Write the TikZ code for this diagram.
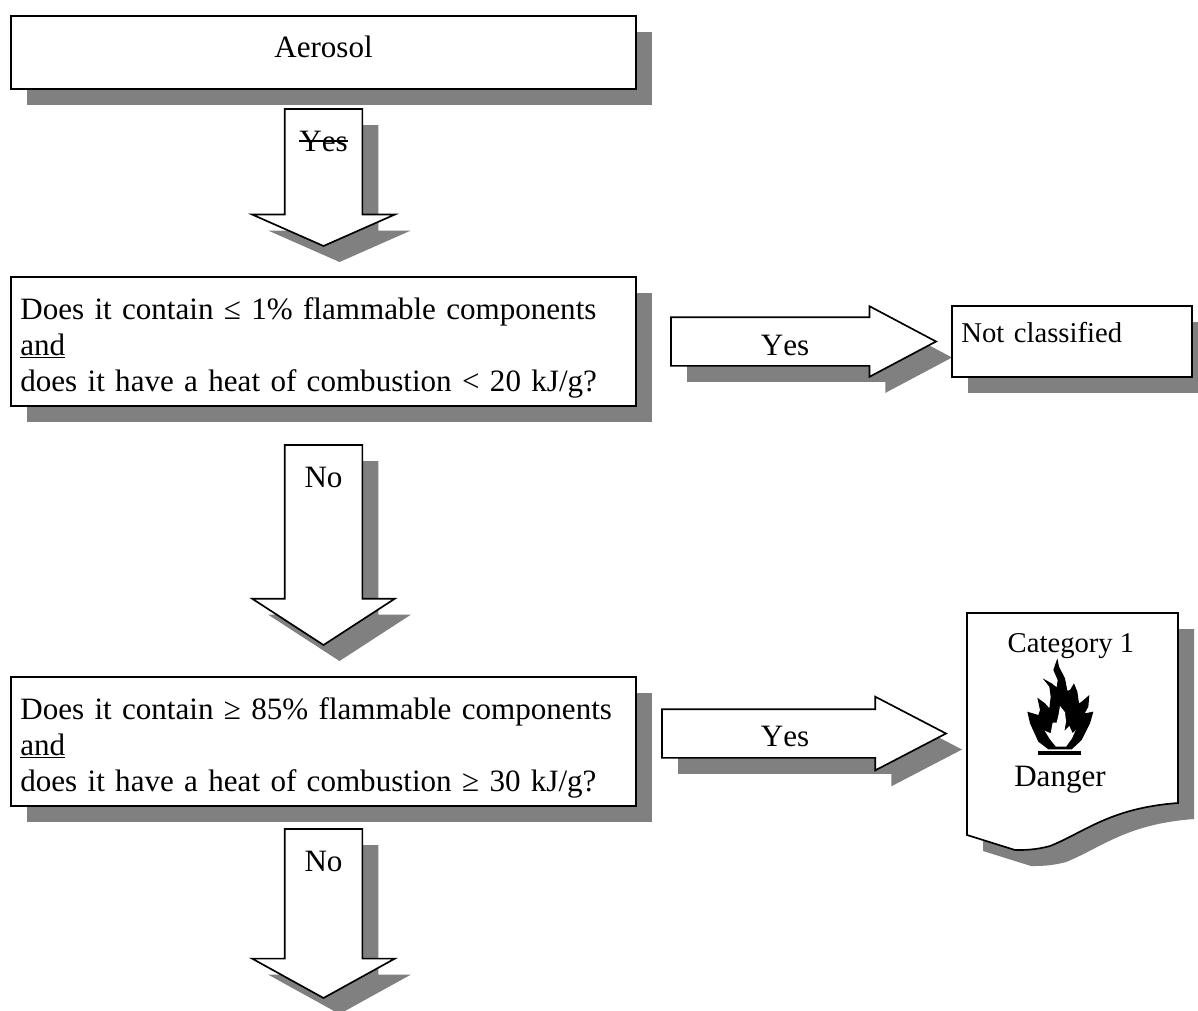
\documentclass[tikz,border=0pt]{standalone}
\usepackage{fontspec}
\setmainfont[Kerning=Off]{Liberation Serif}
\usetikzlibrary{shapes.arrows,shadows}
\def\px{0.75pt}
\tikzset{dropshadow/.style={general shadow={fill=gray,shadow xshift=16*\px,shadow yshift=-16*\px}}}
\tikzset{basic/.style={draw,fill=white,line width=1.25pt,outer sep=0pt,dropshadow}}
\tikzset{question/.style={basic,rectangle,anchor=north west,minimum width=625*\px,minimum height=129*\px,inner xsep=7pt,inner ysep=0pt,text width=625*\px-14pt,align=left,text depth=50pt}}
\tikzset{downarrow/.style={basic,single arrow,anchor=tail,shape border rotate=270,minimum width=141*\px,minimum height=#1*\px,single arrow head extend=32.5*\px,inner sep=38*\px}}
\tikzset{rightarrow/.style={basic,single arrow,anchor=tail,minimum height=#1*\px,inner sep=23.5*\px}}
\tikzset{arrowtext/.style={inner sep=0pt}}
\begin{document}
\begin{tikzpicture}[x=0.75pt,y=-0.75pt,font=\fontsize{23.3}{27}\selectfont]
        \useasboundingbox (0,0) rectangle (1198,1010);
        \node[question,minimum height=73*\px,align=center,text depth=8.5pt] (aerosol) at (11,16) {Aerosol};
        \node[downarrow=137,single arrow tip angle=132.4] (arrow1) at (323.5,109) {};
        \node[arrowtext] (yes1) at (323.5,141) {Yes};
        \draw[line width=0.8pt] (yes1.west) -- (yes1.east);
        \node[question] (q1) at (11,277) {Does it contain ≤ 1\% flammable components\\\underline{and}\\does it have a heat of combustion < 20 kJ/g?};
        \node[rightarrow=265,minimum width=69*\px,single arrow head extend=11*\px,single arrow tip angle=55.9] (arrow2) at (671,341.5) {};
        \node[arrowtext] (yes2) at (785,345) {Yes};
        \node[basic,anchor=north west,minimum width=240*\px,minimum height=71*\px,inner xsep=7pt,text width=240*\px-14pt,align=left,text depth=13.5pt,font=\fontsize{21.5}{27}\selectfont] (notclass) at (952,306) {Not classified};
        \node[downarrow=200,single arrow tip angle=114] (arrow3) at (323.5,445) {};
        \node[arrowtext] (no1) at (323.5,477) {No};
        \node[question] (q2) at (11,677) {Does it contain ≥ 85\% flammable components\\\underline{and}\\does it have a heat of combustion ≥ 30 kJ/g?};
        \node[rightarrow=284,minimum width=73*\px,single arrow head extend=12.5*\px,single arrow tip angle=55] (arrow4) at (662,733.5) {};
        \node[arrowtext] (yes3) at (785,736) {Yes};
        \node[downarrow=169,single arrow tip angle=122.2] (arrow5) at (323.5,829) {};
        \node[arrowtext] (no2) at (323.5,861) {No};
        % page with the wavy lower edge
        \draw[line width=1.25pt,fill=white,dropshadow] (967,613) -- (1178,613) -- (1178,803)
            .. controls (1110,808) and (1085,832) .. (1050,846)
            .. controls (1035,850) and (1025,850) .. (1015,850) -- (967,835) -- cycle;
        \node[arrowtext,font=\fontsize{21.5}{27}\selectfont] (cat) at (1071,646) {Category 1};
        \node[arrowtext] (danger) at (1060,780) {Danger};
        % flame, points
        \begin{scope}[shift={(1010,650)},x=0.25pt,y=-0.25pt]
            \fill[black] (115,298) -- (85,275) -- (60,220) -- (52,185) -- (75,192) -- (85,195) -- (90,180) -- (82,143)
                -- (105,160) -- (118,175) -- (122,140) -- (118,110) -- (98,85) -- (125,100) -- (140,112) -- (143,90)
                -- (130,60) -- (142,25) -- (147,50) -- (165,85) -- (172,122) -- (180,120) -- (192,100) -- (202,125)
                -- (207,160) -- (215,155) -- (238,135) -- (235,170) -- (224,190) -- (250,185) -- (240,220) -- (215,270)
                -- (185,298) -- cycle;
            \fill[white] (138,290) -- (120,268) -- (104,242) -- (122,250) -- (128,218) -- (140,218) -- (146,192)
                -- (150,168) -- (165,187) -- (168,215) -- (163,243) -- (178,228) -- (188,250) -- (197,240) -- (186,265)
                -- (168,290) -- cycle;
            \fill[black] (85,303) rectangle (213,315);
        \end{scope}
    \end{tikzpicture}
\end{document}
